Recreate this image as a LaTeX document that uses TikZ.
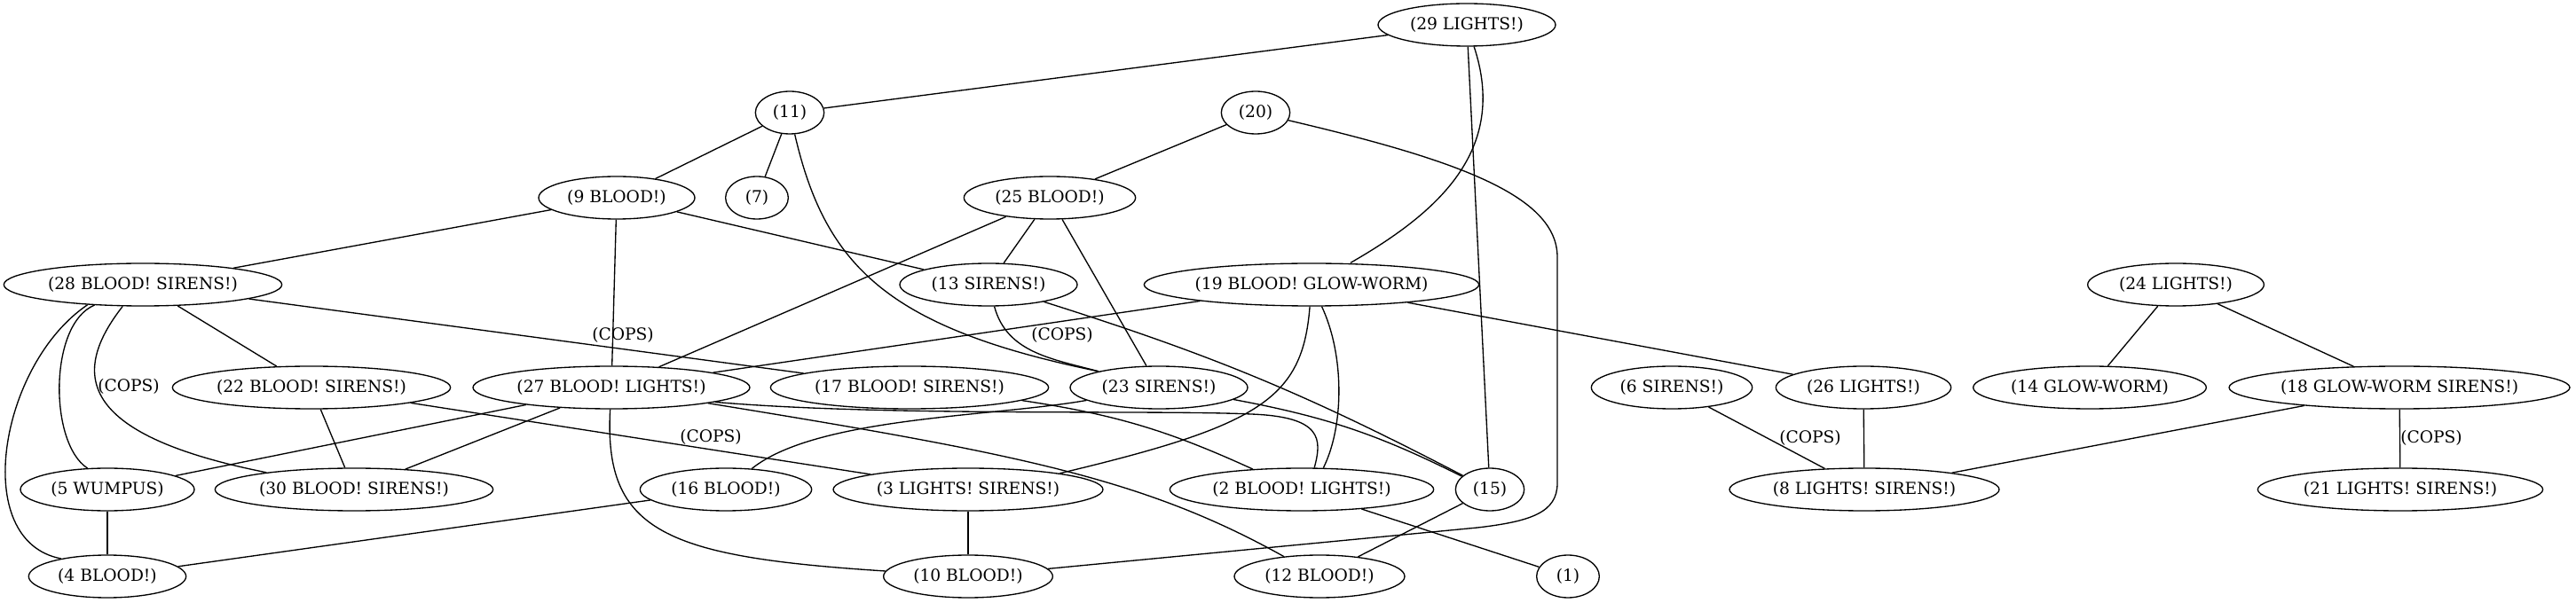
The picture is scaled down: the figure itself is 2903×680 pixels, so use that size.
\documentclass[tikz,border=0pt]{standalone}
\usepackage{fontspec}
\setmainfont{DejaVu Serif}
\usetikzlibrary{shapes.geometric}
\begin{document}
\begin{tikzpicture}[x=0.75pt,y=-0.75pt,line width=1pt,
    font=\fontsize{14}{16}\selectfont,
    st/.style={draw,ellipse,inner sep=0pt,minimum height=36pt,minimum width=#1}]
        \useasboundingbox (0,0) rectangle (2903,680);
        % row 1-3
        \node[st=150pt] (n29) at (1653,28) {(29 LIGHTS!)};
        \node[st=58pt] (n11) at (890,127) {(11)};
        \node[st=58pt] (n20) at (1415,127) {(20)};
        \node[st=132pt] (n9) at (695,223) {(9 BLOOD!)};
        \node[st=53pt] (n7) at (853,223) {(7)};
        \node[st=145pt] (n25) at (1183,223) {(25 BLOOD!)};
        % row 4
        \node[st=235pt] (n28) at (161,321) {(28 BLOOD! SIRENS!)};
        \node[st=150pt] (n13) at (1114,321) {(13 SIRENS!)};
        \node[st=283pt] (n19) at (1478,321) {(19 BLOOD! GLOW-WORM)};
        \node[st=149pt] (n24) at (2452,321) {(24 LIGHTS!)};
        % row 5
        \node[st=235pt] (n22) at (351,437) {(22 BLOOD! SIRENS!)};
        \node[st=234pt] (n27) at (689,437) {(27 BLOOD! LIGHTS!)};
        \node[st=235pt] (n17) at (1025,437) {(17 BLOOD! SIRENS!)};
        \node[st=150pt] (n23) at (1306,437) {(23 SIRENS!)};
        \node[st=136pt] (n6) at (1884,437) {(6 SIRENS!)};
        \node[st=148pt] (n26) at (2100,437) {(26 LIGHTS!)};
        \node[st=197pt] (n14) at (2355,437) {(14 GLOW-WORM)};
        \node[st=288pt] (n18) at (2704,437) {(18 GLOW-WORM SIRENS!)};
        % row 6
        \node[st=147pt] (n5) at (121,552) {(5 WUMPUS)};
        \node[st=235pt] (n30) at (399,552) {(30 BLOOD! SIRENS!)};
        \node[st=145pt] (n16) at (818,552) {(16 BLOOD!)};
        \node[st=228pt] (n3) at (1091,552) {(3 LIGHTS! SIRENS!)};
        \node[st=223pt] (n2) at (1467,552) {(2 BLOOD! LIGHTS!)};
        \node[st=58pt] (n15) at (1679,552) {(15)};
        \node[st=228pt] (n8) at (2101,552) {(8 LIGHTS! SIRENS!)};
        \node[st=241pt] (n21) at (2705,552) {(21 LIGHTS! SIRENS!)};
        % row 7
        \node[st=133pt] (n4) at (121,650) {(4 BLOOD!)};
        \node[st=143pt] (n10) at (1091,650) {(10 BLOOD!)};
        \node[st=144pt] (n12) at (1487,650) {(12 BLOOD!)};
        \node[st=53pt] (n1) at (1767,650) {(1)};
        % edge labels
        \node (c1) at (702,378) {(COPS)};
        \node (c2) at (145,436) {(COPS)};
        \node (c3) at (801,493) {(COPS)};
        \node (c4) at (1197,378) {(COPS)};
        \node (c5) at (2040,494) {(COPS)};
        \node (c6) at (2740,494) {(COPS)};
        % straight edges
        \draw (n29) -- (n11);
        \draw (n29) -- (n15);
        \draw (n11) -- (n9);
        \draw (n11) -- (n7);
        \draw (n20) -- (n25);
        \draw (n9) -- (n28);
        \draw (n9) -- (n13);
        \draw (n9) -- (n27);
        \draw (n25) -- (n13);
        \draw (n25) -- (n23);
        \draw (n25) -- (n27);
        \draw (n28) -- (n22);
        \draw (n28) -- (n17);
        \draw (n19) -- (n27);
        \draw (n19) -- (n26);
        \draw (n22) -- (n30);
        \draw (n22) -- (n3);
        \draw (n27) -- (n5);
        \draw (n27) -- (n30);
        \draw (n3) -- (n10);
        \draw (n2) -- (n1);
        \draw (n15) -- (n12);
        \draw (n16) -- (n4);
        \draw (n5) -- (n4);
        \draw (n24) -- (n14);
        \draw (n24) -- (n18);
        \draw (n18) -- (n8);
        \draw (n18) -- (n21);
        \draw (n6) -- (n8);
        \draw (n26) -- (n8);
        % curved edges
        \draw (n29) .. controls (1700,170) and (1620,240) .. ([xshift=33pt]n19.north);
        \draw (n11) .. controls (930,300) and (1000,370) .. (n23.165);
        \draw (n13) to[out=-75,in=165] (n23);
        \draw (n13) to[bend left=5] (n15);
        \draw (n23) to[bend left=8] (n15);
        \draw (n17) to[bend left=8] (n2);
        \draw (n20) .. controls (1640,180) and (1755,220) .. (1755,290) -- (1755,545)
            .. controls (1755,578) and (1725,588) .. (1665,595) -- (n10);
        \draw (n27) .. controls (680,600) and (750,628) .. (n10);
        \draw (n27.-8) .. controls (1000,470) and (1300,462) .. (1410,467)
            .. controls (1490,470) and (1490,495) .. (n2.60);
        \draw (n19) .. controls (1515,400) and (1515,480) .. (n2.45);
        \draw (n19) .. controls (1468,450) and (1420,480) .. (n3.10);
        \draw (n23) .. controls (1120,470) and (920,470) .. (n16);
        \draw (n27) .. controls (1150,512) and (1290,540) .. (n12);
        \draw (n28.-157) .. controls (55,365) and (55,500) .. (n5.133);
        \draw (n28.-160) .. controls (0,410) and (-35,610) .. (n4.159);
        \draw (n28.-133) .. controls (80,420) and (85,490) .. (n30.169);
    \end{tikzpicture}
\end{document}
